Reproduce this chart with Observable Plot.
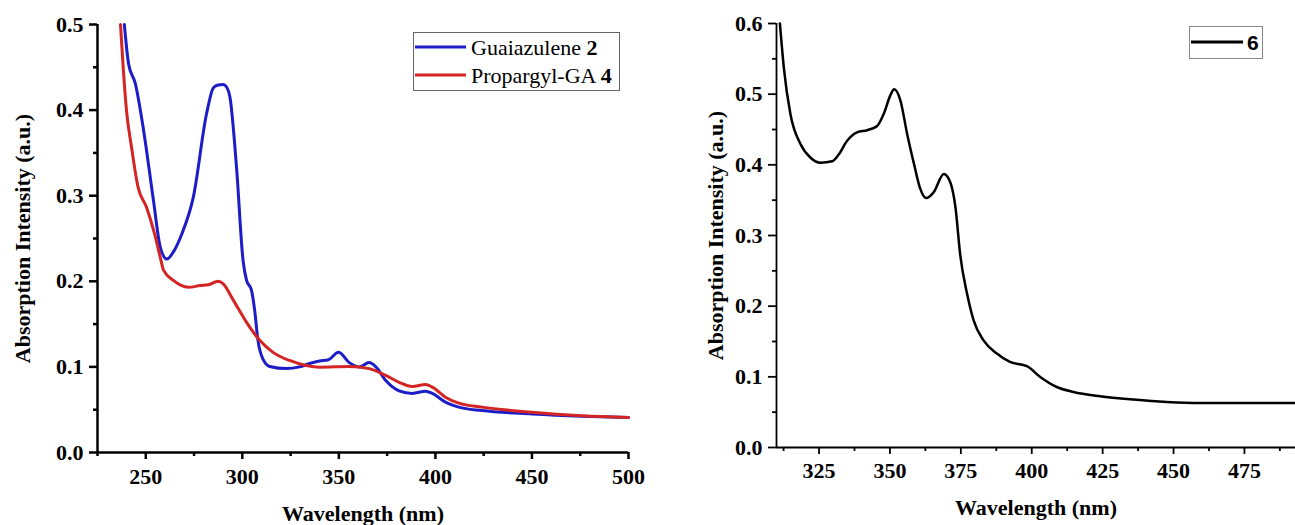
<!DOCTYPE html>
<html><head><meta charset="utf-8">
<script src="https://cdn.jsdelivr.net/npm/d3@7"></script>
<script src="https://cdn.jsdelivr.net/npm/@observablehq/plot@0.6"></script>
<style>
body{margin:0;background:#fff;}
#wrap{position:relative;width:1295px;height:525px;overflow:hidden;background:#fff;}
#left,#right{position:absolute;top:0;}
#left{left:0;}
#right{left:650px;}
#legend{position:absolute;left:0;top:0;pointer-events:none;}
</style></head><body>
<div id="wrap"><div id="left"></div><div id="right"></div>
<svg id="legend" width="1295" height="525"></svg></div>
<script>
// ---------- data ----------
const seriesNames = ["Guaiazulene", "Propargyl-GA", "6"];
const seriesNumbers = ["2", "4", ""];
const seriesColors = ["#1c1cc8", "#d42424", "#000000"];

const wlGA = [238.9,241.1,244.6,248.9,254,257.5,260.9,264.5,268.6,274.6,281.5,285,287,290,291.5,293.6,297,300.4,302.2,304.7,306.4,308.1,310.7,314.2,322.8,329.6,335,340,344.2,349.9,355.4,360.6,365.7,369.2,374.3,381.2,388,394.9,398.4,405.2,412.1,424.1,449.9,475.7,500];
const absGA = [0.5,0.454,0.431,0.376,0.294,0.240,0.226,0.235,0.255,0.298,0.396,0.426,0.429,0.430,0.428,0.415,0.333,0.224,0.201,0.190,0.166,0.131,0.109,0.1005,0.098,0.100,0.104,0.107,0.108,0.117,0.105,0.100,0.105,0.100,0.084,0.072,0.069,0.0716,0.069,0.0588,0.053,0.049,0.045,0.0424,0.041];

const wlPGA = [236.9,238.3,240,242.6,246,250.3,254.6,257.5,259.2,264.3,272.1,278.1,282.4,287.5,290.1,295.3,302.2,309,315.9,324.5,333.1,340,355.4,365.7,374.3,381.2,388,394.9,398.4,405.2,412.1,424.1,449.9,475.7,500];
const absPGA = [0.5,0.45,0.40,0.357,0.310,0.287,0.255,0.228,0.213,0.201,0.193,0.195,0.196,0.200,0.197,0.178,0.152,0.131,0.117,0.1075,0.1016,0.0997,0.1005,0.098,0.090,0.082,0.077,0.0794,0.0763,0.0646,0.0576,0.053,0.047,0.043,0.041];

const wl6 = [311.2,312.6,314.9,318.5,322,325.5,329.6,332,334.9,338.4,342,345.5,347.8,350.1,351.5,353.7,356.1,358.5,360.7,362.8,365.4,369,371.3,373.1,374.8,377.2,379.5,383,387.7,392.3,398.3,403,408.8,414.7,424.1,435.9,447.6,459.3,471.1,493];
const abs6 = [0.6,0.537,0.472,0.429,0.410,0.403,0.405,0.415,0.434,0.446,0.449,0.455,0.472,0.498,0.507,0.491,0.443,0.401,0.366,0.353,0.361,0.387,0.375,0.340,0.272,0.2175,0.180,0.1515,0.133,0.121,0.115,0.0998,0.0856,0.0786,0.0725,0.0678,0.0645,0.063,0.063,0.063];

const leftXTicks = [250, 300, 350, 400, 450, 500];
const leftXMinor = [225, 275, 325, 375, 425, 475];
const leftYTicks = [0, 0.1, 0.2, 0.3, 0.4, 0.5];
const leftYMinor = [0.05, 0.15, 0.25, 0.35, 0.45];
const rightXTicks = [325, 350, 375, 400, 425, 450, 475];
const rightXMinor = [312.5, 337.5, 362.5, 387.5, 412.5, 437.5, 462.5, 487.5];
const rightYTicks = [0, 0.1, 0.2, 0.3, 0.4, 0.5, 0.6];
const rightYMinor = [0.05, 0.15, 0.25, 0.35, 0.45, 0.55];

const xLabel = "Wavelength (nm)";
const yLabel = "Absorption Intensity (a.u.)";

// ---------- helpers ----------
const toRows = (xs, ys) => xs.map((x, i) => ({x, y: ys[i]}));
const serif = "'Liberation Serif','Times New Roman',serif";
const baseStyle = {fontFamily: serif, fontSize: "22px", fontWeight: "bold", background: "transparent", color: "#000", overflow: "visible"};
const fmt1 = d3.format(".1f");
const FS = 22;

function axesMarks(x0, xTicks, xMinor, yTicks, yMinor, w, ylo, xlo, xpad) {
  return [
    Plot.ruleX([x0], {strokeWidth: w}),
    Plot.ruleY([0], {strokeWidth: w}),
    Plot.axisY(yTicks, {tickSize: 8, tickPadding: 6, strokeWidth: w, fontSize: FS, fontWeight: "bold", tickFormat: fmt1, label: yLabel, labelAnchor: "center", labelOffset: ylo, labelArrow: "none"}),
    Plot.axisY(yMinor, {tickSize: 4, strokeWidth: w, tickFormat: () => "", label: null}),
    Plot.axisX(xTicks, {tickSize: 7, tickPadding: xpad, strokeWidth: w, fontSize: FS, fontWeight: "bold", label: xLabel, labelAnchor: "center", labelOffset: xlo, labelArrow: "none"}),
    Plot.axisX(xMinor, {tickSize: 4, strokeWidth: w, tickFormat: () => "", label: null})
  ];
}

const leftPlot = Plot.plot({
  width: 650, height: 525,
  marginLeft: 97, marginRight: 22, marginTop: 24, marginBottom: 73,
  style: baseStyle,
  x: {domain: [225, 500]},
  y: {domain: [0, 0.5]},
  marks: [
    ...axesMarks(225, leftXTicks, leftXMinor, leftYTicks, leftYMinor, 2.5, 83, 68, 9),
    Plot.line(toRows(wlGA, absGA), {x: "x", y: "y", stroke: seriesColors[0], strokeWidth: 3, curve: "monotone-x"}),
    Plot.line(toRows(wlPGA, absPGA), {x: "x", y: "y", stroke: seriesColors[1], strokeWidth: 3, curve: "monotone-x"})
  ]
});
document.getElementById("left").appendChild(leftPlot);

const rightPlot = Plot.plot({
  width: 645, height: 525,
  marginLeft: 126, marginRight: 0, marginTop: 23, marginBottom: 78,
  style: baseStyle,
  x: {domain: [310, 493]},
  y: {domain: [0, 0.6]},
  marks: [
    ...axesMarks(310, rightXTicks, rightXMinor, rightYTicks, rightYMinor, 1.8, 69, 67, 8),
    Plot.line(toRows(wl6, abs6), {x: "x", y: "y", stroke: seriesColors[2], strokeWidth: 2.5, curve: "monotone-x"})
  ]
});
document.getElementById("right").appendChild(rightPlot);

// ---------- legends ----------
const lg = d3.select("#legend");
// left legend
lg.append("rect").attr("x", 413.5).attr("y", 32.5).attr("width", 206).attr("height", 58)
  .attr("fill", "#fff").attr("stroke", "#666").attr("stroke-width", 1);
[0, 1].forEach((i) => {
  const yy = 47 + i * 28;
  lg.append("line").attr("x1", 415).attr("x2", 466).attr("y1", yy).attr("y2", yy)
    .attr("stroke", seriesColors[i]).attr("stroke-width", 3);
  const t = lg.append("text").attr("x", 471).attr("y", yy + 8)
    .attr("font-family", serif).attr("font-size", 22).attr("fill", "#000");
  t.append("tspan").text(seriesNames[i] + " ");
  t.append("tspan").attr("font-weight", "bold").text(seriesNumbers[i]);
});
// right legend
lg.append("rect").attr("x", 1189.5).attr("y", 26.5).attr("width", 73).attr("height", 32)
  .attr("fill", "#fff").attr("stroke", "#888").attr("stroke-width", 1);
lg.append("line").attr("x1", 1191).attr("x2", 1243).attr("y1", 42).attr("y2", 42)
  .attr("stroke", seriesColors[2]).attr("stroke-width", 3);
lg.append("text").attr("x", 1247).attr("y", 50)
  .attr("font-family", "'Liberation Sans',Arial,sans-serif").attr("font-size", 21).attr("font-weight", "bold")
  .text(seriesNames[2]);
</script>
</body></html>
